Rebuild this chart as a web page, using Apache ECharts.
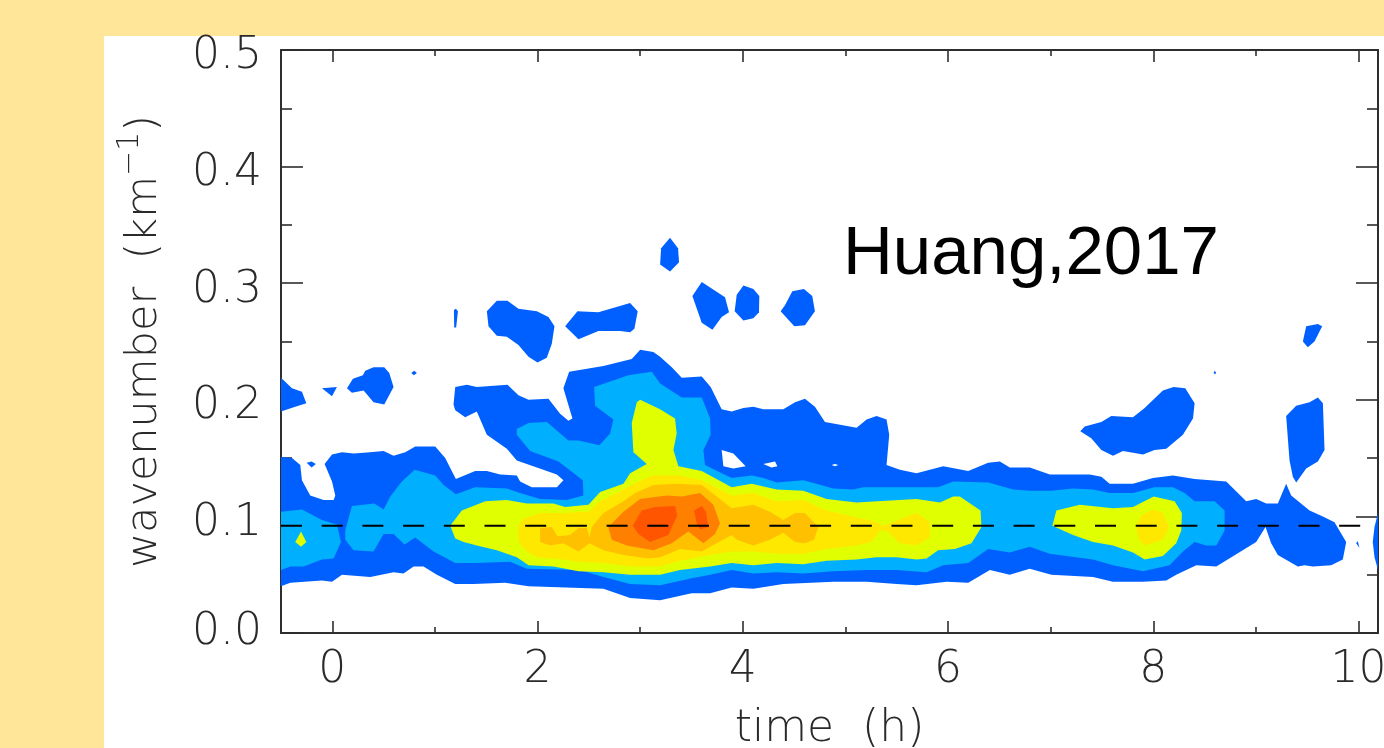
<!DOCTYPE html>
<html><head><meta charset="utf-8">
<script src="https://cdn.jsdelivr.net/npm/echarts@6/dist/echarts.min.js"></script>
<style>html,body{margin:0;padding:0;background:#ffe699}#c{width:1384px;height:748px}</style>
</head><body><div id="c"></div>
<script>
// Tick positions and labels
const xMajorTicks = [0,2,4,6,8,10];
const xMinorTicks = [1,3,5,7,9];
const yMajorTicks = [0,0.1,0.2,0.3,0.4,0.5];
const yMinorTicks = [0.05,0.15,0.25,0.35,0.45];
const referenceWavenumber = 0.092;
const referenceLine = [[-0.5,referenceWavenumber],[10.02,referenceWavenumber]];

// Contour regions: [time (h), wavenumber (km^-1)]
const level1Main = [[-0.5,.151],[-.393,.150],[-.312,.144],[-.296,.131],[-.215,.118],[-.085,.114],[.013,.114],[.029,.118],[-.003,.130],[-.075,.145],[-.003,.153],[.094,.155],[.208,.154],[.370,.155],[.500,.156],[.597,.152],[.711,.155],[.808,.160],[1.003,.160],[1.100,.150],[1.204,.132],[1.392,.139],[1.506,.139],[1.636,.136],[1.798,.135],[1.830,.130],[1.944,.125],[2.188,.125],[2.252,.131],[2.188,.136],[1.798,.148],[1.701,.158],[1.506,.170],[1.408,.190],[1.295,.185],[1.198,.191],[1.181,.196],[1.198,.211],[1.311,.213],[1.408,.211],[1.707,.213],[1.814,.204],[1.912,.200],[2.106,.201],[2.220,.188],[2.301,.182],[2.340,.184],[2.252,.210],[2.308,.224],[2.642,.229],[2.918,.235],[3.000,.243],[3.129,.241],[3.194,.237],[3.308,.228],[3.405,.219],[3.600,.220],[3.687,.211],[3.794,.192],[3.892,.190],[4.006,.193],[4.103,.194],[4.200,.192],[4.395,.192],[4.509,.198],[4.606,.201],[4.703,.194],[4.801,.181],[5.109,.176],[5.207,.183],[5.304,.186],[5.401,.183],[5.427,.170],[5.401,.144],[5.531,.140],[5.693,.137],[5.953,.143],[6.197,.139],[6.391,.146],[6.505,.147],[6.602,.142],[6.797,.142],[6.992,.136],[7.380,.136],[7.494,.134],[7.575,.128],[7.802,.128],[7.997,.133],[8.192,.135],[8.403,.132],[8.711,.130],[8.906,.113],[9.003,.115],[9.101,.111],[9.214,.111],[9.295,.128],[9.344,.118],[9.523,.105],[9.653,.100],[9.766,.095],[9.880,.078],[9.847,.063],[9.734,.058],[9.555,.057],[9.474,.058],[9.409,.057],[9.214,.067],[9.149,.077],[9.094,.091],[9.003,.078],[8.614,.057],[8.419,.058],[8.224,.050],[8.127,.045],[7.900,.044],[7.607,.044],[7.413,.048],[7.007,.050],[6.796,.055],[6.602,.050],[6.408,.054],[6.197,.043],[5.986,.044],[5.693,.041],[5.499,.042],[5.207,.044],[4.882,.044],[4.395,.042],[4.103,.038],[3.892,.039],[3.681,.034],[3.502,.034],[3.194,.028],[2.902,.030],[2.642,.038],[1.912,.040],[1.684,.043],[1.376,.042],[1.198,.042],[1.019,.050],[.889,.057],[.792,.057],[.694,.051],[.597,.052],[.370,.048],[.094,.050],[-.003,.044],[-.101,.045],[-.409,.043],[-0.5,.040]];
const level1Islands = [
 [[-.5,.219],[-.393,.210],[-.296,.207],[-.253,.197],[-.361,.194],[-.5,.190]],
 [[-.101,.210],[.045,.211],[-.003,.203]],
 [[.143,.210],[.201,.218],[.298,.221],[.321,.225],[.402,.228],[.506,.228],[.555,.223],[.597,.211],[.506,.196],[.402,.198],[.305,.208],[.191,.206]],
 [[.798,.225],[.824,.223],[.795,.221],[.769,.223]],
 [[-.250,.146],[-.202,.147],[-.160,.145],[-.202,.142]],
 [[1.185,.277],[1.204,.278],[1.224,.276],[1.207,.262],[1.188,.262]],
 [[1.506,.276],[1.603,.285],[1.707,.285],[1.814,.278],[1.993,.276],[2.106,.271],[2.165,.263],[2.139,.248],[2.090,.236],[1.999,.232],[1.912,.237],[1.814,.247],[1.701,.254],[1.603,.255],[1.522,.263]],
 [[2.269,.263],[2.389,.276],[2.593,.275],[2.902,.283],[2.976,.276],[2.944,.261],[2.902,.258],[2.804,.259],[2.593,.259],[2.399,.252]],
 [[3.291,.339],[3.369,.330],[3.379,.318],[3.291,.310],[3.194,.316],[3.204,.330]],
 [[3.509,.289],[3.600,.301],[3.827,.288],[3.866,.275],[3.794,.271],[3.704,.260],[3.600,.266]],
 [[3.941,.290],[4.006,.298],[4.103,.295],[4.161,.289],[4.158,.275],[4.103,.270],[4.006,.268],[3.921,.276]],
 [[4.369,.276],[4.411,.281],[4.483,.293],[4.596,.295],[4.677,.289],[4.703,.276],[4.606,.264],[4.502,.263]],
 [[7.289,.173],[7.332,.177],[7.494,.181],[7.591,.186],[7.802,.185],[7.916,.193],[8.094,.208],[8.198,.211],[8.312,.210],[8.403,.197],[8.387,.184],[8.289,.170],[8.127,.158],[8.013,.157],[7.900,.153],[7.705,.156],[7.608,.152],[7.494,.157],[7.396,.167]],
 [[8.598,.225],[8.614,.223],[8.601,.222],[8.588,.223]],
 [[9.295,.186],[9.393,.195],[9.523,.198],[9.604,.202],[9.653,.197],[9.669,.157],[9.604,.147],[9.490,.141],[9.393,.129],[9.360,.134],[9.328,.148]],
 [[9.490,.263],[9.604,.265],[9.646,.263],[9.571,.250],[9.506,.245],[9.458,.250]],
 [[9.993,.079],[10.009,.073],[9.977,.077]],
 [[10.19,.103],[10.19,.054],[10.156,.065],[10.139,.078],[10.156,.091]]
];
const level1Holes = [
 [[3.794,.157],[3.908,.154],[4.028,.143],[3.908,.141],[3.811,.143]],
 [[4.200,.145],[4.314,.147],[4.337,.143],[4.281,.142]],
 [[4.866,.144],[4.898,.145],[4.931,.144],[4.898,.143]]
];
const level2Left = [[-.5,.104],[-.296,.106],[-.101,.097],[.045,.093],[.084,.078],[.013,.064],[-.101,.063],[-.279,.057],[-.409,.057],[-.5,.054]];
const level2Main = [[.126,.088],[.191,.109],[.409,.111],[.500,.106],[.565,.117],[.678,.130],[.802,.140],[1.003,.135],[1.084,.127],[1.204,.119],[1.392,.125],[1.701,.124],[1.830,.120],[2.025,.115],[2.285,.114],[2.447,.118],[2.441,.131],[2.204,.147],[1.928,.156],[1.798,.170],[1.798,.175],[1.912,.180],[2.090,.181],[2.301,.165],[2.399,.165],[2.603,.161],[2.707,.171],[2.739,.183],[2.561,.195],[2.551,.211],[2.885,.221],[3.113,.224],[3.194,.214],[3.405,.202],[3.600,.202],[3.681,.184],[3.687,.170],[3.616,.157],[3.632,.144],[3.794,.137],[3.892,.133],[4.087,.135],[4.200,.133],[4.330,.129],[4.590,.131],[4.882,.124],[5.077,.123],[5.174,.125],[5.904,.125],[6.050,.130],[6.391,.129],[6.635,.123],[6.797,.122],[7.007,.122],[7.218,.124],[7.413,.123],[7.575,.120],[7.802,.120],[8.013,.125],[8.192,.125],[8.305,.120],[8.403,.113],[8.598,.113],[8.695,.105],[8.695,.088],[8.614,.075],[8.516,.075],[8.403,.078],[8.289,.070],[8.159,.058],[7.900,.053],[7.608,.058],[7.413,.063],[6.991,.068],[6.796,.074],[6.602,.069],[6.391,.072],[6.197,.060],[5.953,.058],[5.791,.052],[5.499,.054],[5.207,.054],[4.882,.053],[4.590,.051],[4.330,.052],[4.103,.051],[3.892,.054],[3.681,.050],[3.502,.047],[3.194,.041],[2.902,.042],[2.642,.048],[2.415,.054],[1.895,.055],[1.733,.061],[1.392,.060],[1.198,.060],[.987,.070],[.808,.082],[.704,.076],[.597,.085],[.500,.085],[.402,.070],[.208,.071],[.126,.080]];
const level3Small = [[-.305,.087],[-.253,.078],[-.305,.074],[-.361,.078]];
const level3Main = [[1.149,.092],[1.262,.105],[1.490,.113],[1.701,.114],[1.895,.111],[2.155,.111],[2.269,.108],[2.496,.110],[2.610,.121],[2.837,.128],[2.902,.137],[3.064,.145],[2.934,.155],[2.918,.180],[2.967,.198],[3.000,.200],[3.194,.192],[3.340,.184],[3.356,.171],[3.324,.157],[3.373,.143],[3.600,.139],[3.892,.125],[4.087,.128],[4.330,.123],[4.590,.122],[4.817,.115],[5.109,.112],[5.693,.115],[5.921,.112],[6.050,.117],[6.115,.117],[6.317,.105],[6.326,.091],[6.229,.077],[6.067,.072],[5.904,.071],[5.791,.064],[5.693,.063],[5.499,.065],[5.304,.065],[5.109,.063],[4.817,.062],[4.590,.059],[4.330,.060],[4.103,.058],[3.892,.060],[3.681,.057],[3.389,.054],[3.194,.050],[2.902,.050],[2.642,.052],[2.399,.053],[2.155,.057],[1.912,.058],[1.798,.065],[1.603,.071],[1.408,.075],[1.279,.078],[1.198,.081]];
const level3Right = [[7.017,.092],[7.056,.105],[7.283,.110],[7.608,.107],[7.802,.108],[8.004,.117],[8.208,.113],[8.279,.103],[8.273,.088],[8.224,.077],[8.094,.066],[7.916,.063],[7.802,.069],[7.608,.075],[7.413,.078],[7.218,.084]];
const level4Main = [[1.814,.092],[1.863,.098],[2.025,.103],[2.269,.103],[2.496,.104],[2.610,.113],[2.772,.120],[2.918,.127],[3.113,.135],[3.389,.135],[3.600,.131],[3.892,.118],[4.103,.120],[4.330,.113],[4.590,.114],[4.817,.105],[5.109,.099],[5.271,.096],[5.375,.092],[5.693,.103],[5.823,.095],[5.823,.082],[5.693,.075],[5.531,.077],[5.401,.088],[5.336,.088],[5.255,.078],[5.109,.075],[4.817,.072],[4.590,.068],[4.330,.068],[4.103,.070],[3.892,.070],[3.681,.067],[3.389,.062],[3.194,.057],[2.902,.057],[2.642,.060],[2.399,.061],[2.252,.063],[1.993,.065],[1.895,.070],[1.814,.078]];
const level4Right = [[7.835,.091],[7.883,.101],[8.004,.106],[8.094,.103],[8.153,.091],[8.094,.080],[7.916,.075],[7.851,.081]];
const level5Main = [[2.025,.090],[2.139,.091],[2.194,.083],[2.317,.084],[2.399,.090],[2.480,.090],[2.506,.082],[2.528,.091],[2.642,.103],[2.837,.113],[2.950,.120],[3.129,.127],[3.356,.128],[3.600,.127],[3.746,.117],[3.892,.107],[4.103,.110],[4.265,.104],[4.395,.097],[4.509,.103],[4.606,.103],[4.736,.091],[4.694,.080],[4.606,.077],[4.509,.078],[4.395,.086],[4.265,.080],[4.103,.075],[3.941,.080],[3.892,.084],[3.681,.074],[3.600,.070],[3.389,.072],[3.194,.065],[3.080,.064],[2.837,.067],[2.642,.071],[2.506,.077],[2.399,.070],[2.252,.077],[2.123,.075],[2.025,.078]];
const level6Main = [[2.690,.091],[2.837,.104],[2.999,.115],[3.258,.118],[3.405,.117],[3.583,.120],[3.713,.110],[3.778,.094],[3.729,.085],[3.616,.077],[3.469,.087],[3.307,.077],[3.129,.071],[2.869,.075],[2.723,.080]];
const level7Left = [[2.927,.092],[3.015,.105],[3.145,.108],[3.340,.109],[3.362,.101],[3.275,.084],[3.096,.078],[2.983,.085]];
const level7Right = [[3.525,.105],[3.599,.109],[3.642,.104],[3.664,.091],[3.583,.089],[3.551,.094]];

const contourLayers = [
 {color:'#0060ff', polys:[level1Main].concat(level1Islands)},
 {color:'#ffffff', polys:level1Holes},
 {color:'#00b0ff', polys:[level2Left, level2Main]},
 {color:'#e0ff00', polys:[level3Small, level3Main, level3Right]},
 {color:'#ffe800', polys:[level4Main, level4Right]},
 {color:'#ffc000', polys:[level5Main]},
 {color:'#ff8000', polys:[level6Main]},
 {color:'#ff5500', polys:[level7Left, level7Right]}
];

const xMin=-0.5, xMax=10.19, yMin=0, yMax=0.5;
const inkColor='#2e2e2e';
const tickFont={fontFamily:'"DejaVu Sans"',fontWeight:200,fontSize:44,color:'#2a2a2a'};

function xAxisCfg(pos,values,len,labels,line){
  return {type:'value',position:pos,min:xMin,max:xMax,interval:0.5,splitLine:{show:false},
    axisLine:{show:line,onZero:false,lineStyle:{color:inkColor,width:2}},
    axisTick:{show:true,inside:true,length:len,customValues:values,lineStyle:{color:inkColor,width:1.6}},
    axisLabel:labels?Object.assign({show:true,margin:16,customValues:values,showMinLabel:true,showMaxLabel:true,formatter:v=>String(v)},tickFont):{show:false}};
}
function yLabelToken(v){ return Math.abs(v)<1e-9 ? 'p0' : 'p1'; }
function yAxisCfg(pos,values,len,labels,line){
  return {type:'value',position:pos,min:yMin,max:yMax,interval:0.1,splitLine:{show:false},
    axisLine:{show:line,onZero:false,lineStyle:{color:inkColor,width:2}},
    axisTick:{show:true,inside:true,length:len,customValues:values,lineStyle:{color:inkColor,width:1.6}},
    axisLabel:labels?Object.assign({show:true,margin:19,customValues:values,
      formatter:v=>'{'+yLabelToken(v)+'|'+v.toFixed(1)+'}',
      rich:{p0:Object.assign({padding:[0,0,0,0]},tickFont),p1:Object.assign({padding:[14,0,0,0]},tickFont)}},tickFont):{show:false}};
}

const xBottom=xAxisCfg('bottom',xMajorTicks,12,true,true);
xBottom.name='time  (h)';xBottom.nameLocation='middle';xBottom.nameGap=75;
xBottom.nameTextStyle={fontFamily:'"DejaVu Sans"',fontWeight:200,fontSize:44,color:'#2a2a2a'};
const yLeft=yAxisCfg('left',yMajorTicks,22,true,true);
yLeft.name='{t|wavenumber  (km}{s|−1}{t|)}';yLeft.nameLocation='middle';yLeft.nameGap=106;yLeft.nameRotate=90;
yLeft.nameTextStyle={rich:{
  t:{fontFamily:'"DejaVu Sans"',fontWeight:200,fontSize:43,color:'#2a2a2a'},
  s:{fontFamily:'"DejaVu Sans"',fontWeight:200,fontSize:30,color:'#2a2a2a',padding:[0,0,30,0]}}};

const chart=echarts.init(document.getElementById('c'),null,{renderer:'canvas'});
const series=contourLayers.map(layer=>({
  type:'custom',xAxisIndex:0,yAxisIndex:0,clip:true,silent:true,z:2,animation:false,
  data:layer.polys.map(p=>p[0]),
  renderItem:(params,api)=>({type:'polygon',
    shape:{points:layer.polys[params.dataIndex].map(pt=>api.coord(pt))},
    style:{fill:layer.color}})
}));
series.push({type:'line',xAxisIndex:0,yAxisIndex:0,data:referenceLine,symbol:'none',silent:true,z:3,animation:false,
  lineStyle:{color:'#000',width:2,type:[21,19.7]}});

chart.setOption({
  animation:false,
  backgroundColor:'#ffe699',
  title:{text:'Huang,2017',left:843,top:220,padding:0,textStyle:{fontFamily:'"Liberation Sans"',fontWeight:'normal',fontSize:69,color:'#000'}},
  graphic:[{type:'rect',z:-10,silent:true,shape:{x:104,y:36,width:1280,height:712},style:{fill:'#ffffff'}}],
  grid:{left:281,top:50,width:1097,height:583,containLabel:false,outerBoundsMode:'none'},
  xAxis:[xBottom,xAxisCfg('bottom',xMinorTicks,6,false,false),xAxisCfg('top',xMajorTicks,12,false,true),xAxisCfg('top',xMinorTicks,6,false,false)],
  yAxis:[yLeft,yAxisCfg('left',yMinorTicks,11,false,false),yAxisCfg('right',yMajorTicks,22,false,true),yAxisCfg('right',yMinorTicks,11,false,false)],
  series
});
</script></body></html>
